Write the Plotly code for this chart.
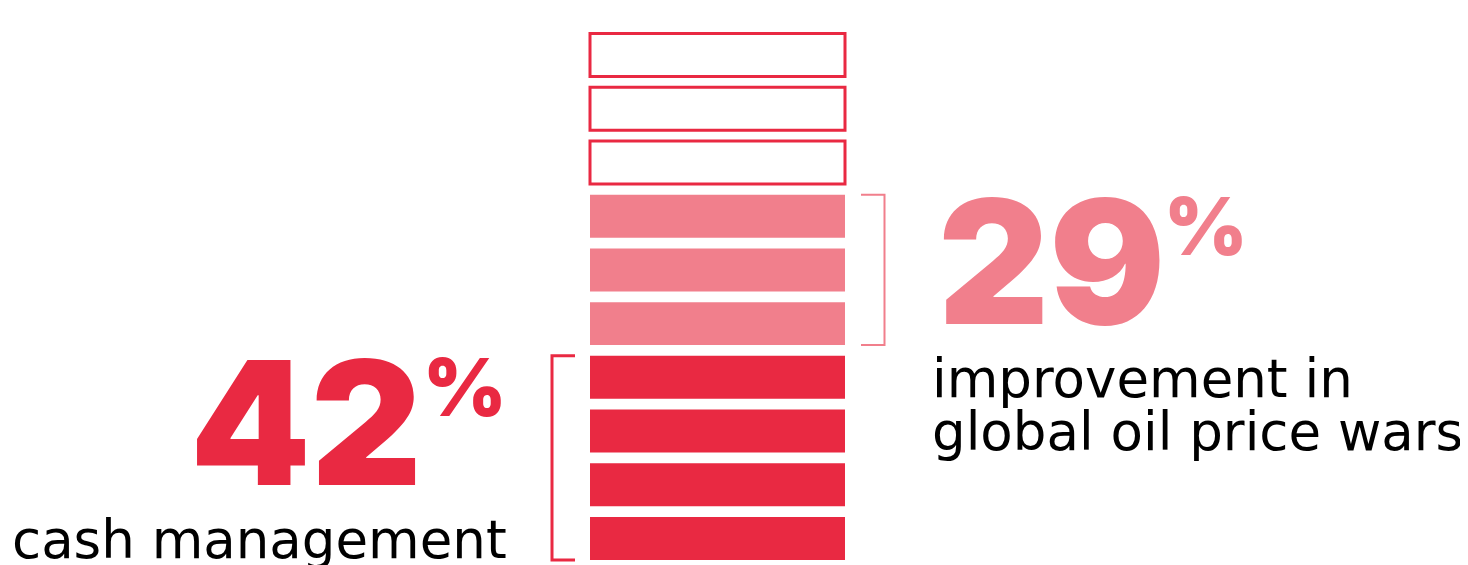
import plotly.graph_objects as go

# ---- data ----
groups = ["cash management", "improvement in global oil price wars", "remaining"]
block_counts = [4, 3, 3]
percent_values = [42, 29]
left_label_lines = ["cash management"]
right_label_lines = ["improvement in", "global oil price wars"]

RED = "#E92942"
PINK = "#F17F8C"
OFF = 8                     # page body margin
W, H = 1468 - OFF, 565 - OFF

fig = go.Figure()

start = 0
styles = [
    dict(color=RED, line=dict(color=RED, width=0)),
    dict(color=PINK, line=dict(color=PINK, width=0)),
    dict(color="white", line=dict(color=RED, width=3)),
]
ranges = []
for g, n, st in zip(groups, block_counts, styles):
    ys = list(range(start, start + n))
    ranges.append((start, start + n - 1))
    fig.add_trace(go.Bar(
        x=[1] * n, y=ys, orientation="h", width=0.8,
        marker=st, name=g, showlegend=False, hoverinfo="skip",
    ))
    start += n

px_per_x = 255.0
x0_px = 590.0 - OFF
period = 53.72
c0 = 538.5 - OFF
fig.update_xaxes(range=[-x0_px / px_per_x, (W - x0_px) / px_per_x], visible=False, fixedrange=True)
fig.update_yaxes(range=[(c0 - H) / period, c0 / period], visible=False, fixedrange=True)

def dx(px):
    return (px - OFF - x0_px) / px_per_x

(l0, l1) = ranges[0]
(r0, r1) = ranges[1]
xv, xa = dx(552), dx(575)
fig.add_shape(type="path", xref="x", yref="y",
              path=f"M {xa},{l1+0.4} L {xv},{l1+0.4} L {xv},{l0-0.4} L {xa},{l0-0.4}",
              line=dict(color=RED, width=3))
xv2, xa2 = dx(884.5), dx(861)
fig.add_shape(type="path", xref="x", yref="y",
              path=f"M {xa2},{r1+0.4} L {xv2},{r1+0.4} L {xv2},{r0-0.4} L {xa2},{r0-0.4}",
              line=dict(color=PINK, width=2))

def px_x(p):
    return (p - OFF) / W

def px_y(p):
    return 1 - (p - OFF) / H

BIG = dict(family="Inter, Roboto, sans-serif", size=172, weight=900)
PCT = dict(family="Inter, Roboto, sans-serif", size=80, weight=900)
BODY = dict(family="DejaVu Sans, Inter, sans-serif", size=53, weight=400, color="#000000")

# 42%
fig.add_annotation(text=str(percent_values[0]), xref="paper", yref="paper",
                   x=px_x(424), y=px_y(528), xanchor="right", yanchor="bottom",
                   showarrow=False, font=dict(**BIG, color=RED))
fig.add_annotation(text="%", xref="paper", yref="paper",
                   x=px_x(421), y=px_y(335.5), xanchor="left", yanchor="top",
                   showarrow=False, font=dict(**PCT, color=RED))
fig.add_annotation(text=left_label_lines[0], xref="paper", yref="paper",
                   x=px_x(10), y=px_y(572), xanchor="left", yanchor="bottom",
                   showarrow=False, font=BODY)

# 29%
fig.add_annotation(text=str(percent_values[1]), xref="paper", yref="paper",
                   x=px_x(936), y=px_y(367), xanchor="left", yanchor="bottom",
                   showarrow=False, font=dict(**BIG, color=PINK))
fig.add_annotation(text="%", xref="paper", yref="paper",
                   x=px_x(1162), y=px_y(175.5), xanchor="left", yanchor="top",
                   showarrow=False, font=dict(**PCT, color=PINK))
for i, line in enumerate(right_label_lines):
    fig.add_annotation(text=line, xref="paper", yref="paper",
                       x=px_x(930), y=px_y(411 + 53 * i), xanchor="left", yanchor="bottom",
                       showarrow=False, font=BODY)

fig.update_layout(
    width=W, height=H, margin=dict(l=0, r=0, t=0, b=0),
    paper_bgcolor="white", plot_bgcolor="white", barmode="overlay",
)

fig.write_html("out.html")
